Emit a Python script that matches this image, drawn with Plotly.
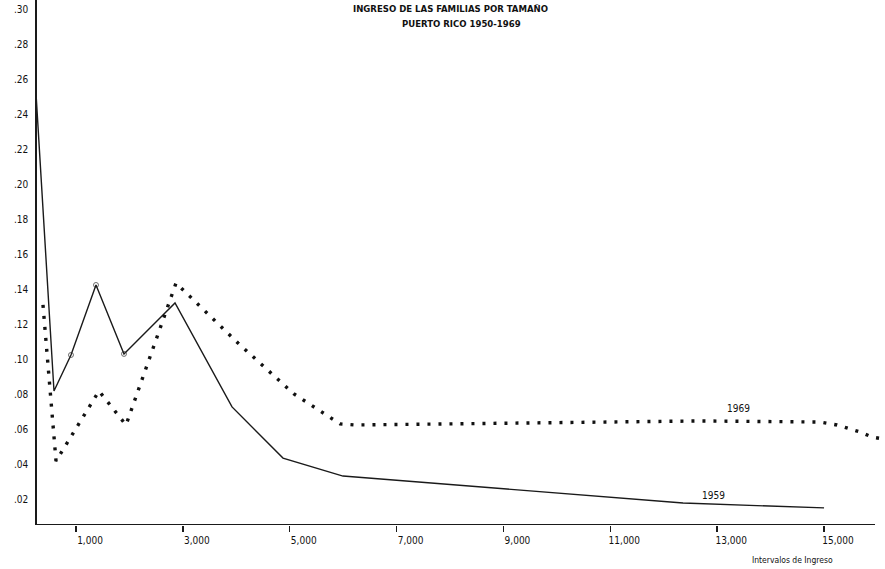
import plotly.graph_objects as go

# 1959 series (income, proportion)
inc_1959 = [251, 588, 906, 1374, 1898, 2853, 3920, 4874, 5997, 9497, 12361, 15000]
val_1959 = [0.252, 0.0817, 0.1023, 0.1423, 0.1029, 0.132, 0.0726, 0.0434, 0.0331, 0.0246, 0.0177, 0.0149]
circ_1959 = [0, 0, 1, 1, 1, 0, 0, 0, 0, 0, 0, 0]

# 1969 series
inc_1969 = [382, 626, 1430, 1936, 2872, 4032, 5080, 5941, 6222, 9497, 12679, 14925, 15243, 15673, 15898, 16104]
val_1969 = [0.1309, 0.0417, 0.0817, 0.0623, 0.1434, 0.1091, 0.0800, 0.0629, 0.0623, 0.0634, 0.0646, 0.0640, 0.0623, 0.0583, 0.0554, 0.0543]

x_ticks = [1000, 3000, 5000, 7000, 9000, 11000, 13000, 15000]
x_labels = ["1,000", "3,000", "5,000", "7,000", "9,000", "11,000", "13,000", "15,000"]
y_ticks = [0.02, 0.04, 0.06, 0.08, 0.10, 0.12, 0.14, 0.16, 0.18, 0.20, 0.22, 0.24, 0.26, 0.28, 0.30]
y_labels = [".02", ".04", ".06", ".08", ".10", ".12", ".14", ".16", ".18", ".20", ".22", ".24", ".26", ".28", ".30"]

X_MIN, X_MAX = 270, 16141
X_AXIS_END = 15954
Y_MIN, Y_MAX = 0.00514, 0.30514

FONT = "Liberation Sans Narrow, DejaVu Sans Condensed, Arial Narrow, Liberation Sans, sans-serif"

fig = go.Figure()
fig.add_trace(go.Scatter(
    x=inc_1959, y=val_1959, mode="lines+markers",
    line=dict(color="#1a1a1a", width=1.4),
    marker=dict(symbol="circle-open", size=[5 if c else 0 for c in circ_1959],
                color="#333", line=dict(width=1)),
    showlegend=False, hoverinfo="skip"))
fig.add_trace(go.Scatter(
    x=inc_1969, y=val_1969, mode="lines",
    line=dict(color="#111", width=3.4, dash="3px,8px"),
    showlegend=False, hoverinfo="skip"))

# x axis baseline (ends before the right edge, as in the original)
fig.add_shape(type="line", xref="x", yref="y", x0=X_MIN, x1=X_AXIS_END,
              y0=Y_MIN, y1=Y_MIN, line=dict(color="#1a1a1a", width=1.8))

fig.add_annotation(x=13390, y=0.0672, text="1969", showarrow=False,
                   xanchor="center", yanchor="bottom",
                   font=dict(family=FONT, size=10, color="#111"))
fig.add_annotation(x=12922, y=0.0177, text="1959", showarrow=False,
                   xanchor="center", yanchor="bottom",
                   font=dict(family=FONT, size=10, color="#111"))

fig.add_annotation(xref="paper", yref="paper", x=0.488, y=1.0, yshift=-8,
                   text="<b>INGRESO DE LAS FAMILIAS POR TAMAÑO</b>",
                   showarrow=False, xanchor="center", yanchor="middle",
                   font=dict(family=FONT, size=9.5, color="#111"))
fig.add_annotation(xref="paper", yref="paper", x=0.501, y=1.0, yshift=-23,
                   text="<b>PUERTO RICO 1950-1969</b>",
                   showarrow=False, xanchor="center", yanchor="middle",
                   font=dict(family=FONT, size=9.5, color="#111"))
fig.add_annotation(xref="paper", yref="paper", x=0.8915, y=0, yshift=-35,
                   text="Intervalos de Ingreso",
                   showarrow=False, xanchor="center", yanchor="middle",
                   font=dict(family=FONT, size=8.5, color="#111"))

fig.update_xaxes(range=[X_MIN, X_MAX], tickvals=x_ticks, ticktext=x_labels,
                 automargin=False,
                 showgrid=False, zeroline=False, showline=False,
                 ticks="outside", ticklen=6, tickwidth=1.4, tickcolor="#1a1a1a",
                 ticklabelshift=14, ticklabelstandoff=0,
                 tickfont=dict(family=FONT, size=10, color="#111"))
fig.update_yaxes(range=[Y_MIN, Y_MAX], tickvals=y_ticks, ticktext=y_labels,
                 automargin=False,
                 showgrid=False, zeroline=False, showline=True,
                 linecolor="#1a1a1a", linewidth=1.8, ticks="",
                 ticklabelstandoff=5,
                 tickfont=dict(family=FONT, size=10, color="#111"))

fig.update_layout(width=885, height=569,
                  margin=dict(l=37, r=0, t=0, b=44),
                  plot_bgcolor="white", paper_bgcolor="white")

fig.write_html("out.html",
               config={"displayModeBar": False, "staticPlot": True},
               post_script="document.body.style.margin='0px';document.body.style.overflow='hidden';")
